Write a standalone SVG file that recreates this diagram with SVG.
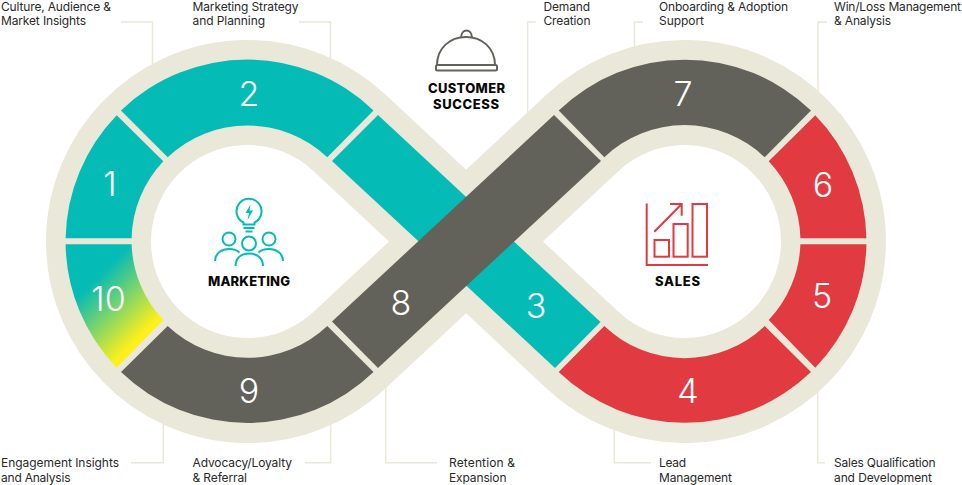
<svg xmlns="http://www.w3.org/2000/svg" width="962" height="485" viewBox="0 0 962 485">
<defs>
<linearGradient id="g10" gradientUnits="userSpaceOnUse" x1="95" y1="280" x2="146" y2="331"><stop offset="0" stop-color="#05bbb5"/><stop offset="1" stop-color="#fff01a"/></linearGradient>
</defs>
<style>
.lb{font:400 12px Inter,"Liberation Sans",sans-serif;fill:#2a2a2a}
.hd{font:800 13px Inter,"Liberation Sans",sans-serif;fill:#0a0a0a;text-anchor:middle}
.n{font:300 34px Inter,"Liberation Sans",sans-serif;fill:#fff;text-anchor:middle}
.c{fill:none;stroke:#eae8d9;stroke-width:1.5}
.teal{fill:#05bbb5}.grey{fill:#63625a}.red{fill:#e13a40}
.it{fill:none;stroke:#05bbb5;stroke-width:2}
.ir{fill:none;stroke:#e13a40;stroke-width:2}
.ig{fill:none;stroke:#63625a;stroke-width:2}
</style>
<rect width="962" height="485" fill="#fff"/>
<g id="connectors">
<path class="c" d="M121 22H152.500V64"/>
<path class="c" d="M299 22H330.500V60"/>
<path class="c" d="M536 22H527.700V113"/>
<path class="c" d="M643 22H634.500V48"/>
<path class="c" d="M827 22H818V92"/>
<path class="c" d="M131 462.700H163.300V422"/>
<path class="c" d="M305 462.700H330.700V424"/>
<path class="c" d="M437 462.700H385.700V387"/>
<path class="c" d="M651 462.700H614.300V428"/>
<path class="c" d="M825 462.700H817.700V390"/>
</g>
<g id="band"><path d="M349.100 132.500L582.900 350.500A149 149 0 1 0 582.900 132.500L349.100 350.500A149 149 0 1 1 349.100 132.500Z" fill="none" stroke="#eae8d9" stroke-width="105"/></g>
<g id="node-1"><path class="teal" d="M116.700 115.300A182 182 0 0 0 65.600 238.300H131.600A116 116 0 0 1 163.300 161.300Z"/><text class="n" x="110" y="196">1</text></g>
<g id="node-2"><path class="teal" d="M121 110.500A182 182 0 0 1 373.500 110.500L327.300 157.300A116 116 0 0 0 167.700 157.300Z"/><text class="n" x="249" y="106">2</text></g>
<g id="node-3"><path class="teal" d="M378 115L600.500 322L555 368L332 161Z"/><text class="n" x="536" y="318">3</text></g>
<g id="node-4"><path class="red" d="M558.700 372A182 182 0 0 0 811 372L764.700 326A116 116 0 0 1 604.300 326Z"/><text class="n" x="688" y="403">4</text></g>
<g id="node-5"><path class="red" d="M866.400 244.300A182 182 0 0 1 815.300 367.700L768.700 320A116 116 0 0 0 800.400 244.300Z"/><text class="n" x="822" y="308">5</text></g>
<g id="node-6"><path class="red" d="M815.300 115.300A182 182 0 0 1 866.400 238.300H800.400A116 116 0 0 0 768.700 161.300Z"/><text class="n" x="823" y="196.500">6</text></g>
<g id="node-7"><path class="grey" d="M558.700 110.500A182 182 0 0 1 811 110.500L764.700 157.300A116 116 0 0 0 604.300 157.300Z"/><text class="n" x="683" y="106">7</text></g>
<g id="node-8"><path class="grey" d="M554 115L601 161L378 368L332 321.500Z"/><text class="n" x="401" y="315">8</text></g>
<g id="node-9"><path class="grey" d="M121 372A182 182 0 0 0 373.500 372L327.300 326A116 116 0 0 1 167.700 326Z"/><text class="n" x="249" y="403">9</text></g>
<g id="node-10"><path fill="url(#g10)" d="M65.600 244.300H131.600A116 116 0 0 0 163.300 320L116.700 367.700A182 182 0 0 1 65.600 244.300Z"/><text class="n" x="108.500" y="311">10</text></g>
<g id="marketing">
<path class="it" d="M243.500 222.500V224.500H254.500V222.500A12.500 12.500 0 1 0 243.500 222.500Z"/>
<path d="M250.500 204.500L245.500 213H249L247.500 220L253 210.500H249.500Z" fill="#05bbb5"/>
<path class="it" d="M243.500 228H254.500M245.500 231.500H252.500"/>
<circle class="it" cx="229" cy="239" r="6.500"/><circle class="it" cx="269" cy="239" r="6.500"/><circle class="it" cx="249" cy="243.500" r="7"/>
<path class="it" d="M215 261C215 253 222 249 229 249C233 249 237 250 239.500 252.500"/>
<path class="it" d="M283 261C283 253 276 249 269 249C265 249 261 250 258.500 252.500"/>
<path class="it" d="M235.500 266C235.500 258 241 253.500 249 253.500C257 253.500 263 258 263 266"/>
<text class="hd" x="249" y="286" textLength="82">MARKETING</text>
</g>
<g id="customer-success">
<path class="ig" d="M437 65C437 48 450 37 466 37C482 37 495 48 495 65"/>
<path class="ig" d="M461 38C461 28 472 28 472 38"/>
<rect class="ig" x="436" y="65" width="61" height="5.500" rx="1.500"/>
<text class="hd" x="466.500" y="93" textLength="77">CUSTOMER</text>
<text class="hd" x="466" y="108.500" textLength="66">SUCCESS</text>
</g>
<g id="sales">
<path class="ir" d="M646.700 203.500V265H708"/>
<rect class="ir" x="654.500" y="240" width="14.500" height="16.700"/>
<rect class="ir" x="673.500" y="224" width="14.200" height="32.700"/>
<rect class="ir" x="692.500" y="204" width="14.500" height="52.700"/>
<path class="ir" d="M654.300 231.700L681.700 204M670 204H681.700V215.700"/>
<text class="hd" x="677.500" y="286" textLength="45">SALES</text>
</g>
<g id="labels">
<text class="lb" x="1" y="10.500" textLength="110">Culture, Audience &amp;</text>
<text class="lb" x="1" y="25" textLength="85">Market Insights</text>
<text class="lb" x="192.500" y="10.500" textLength="106">Marketing Strategy</text>
<text class="lb" x="192.500" y="25" textLength="72.500">and Planning</text>
<text class="lb" x="543.500" y="10.500" textLength="46.500">Demand</text>
<text class="lb" x="543.500" y="25" textLength="47">Creation</text>
<text class="lb" x="659" y="10.500" textLength="129">Onboarding &amp; Adoption</text>
<text class="lb" x="659" y="25" textLength="45">Support</text>
<text class="lb" x="834" y="10.500" textLength="127">Win/Loss Management</text>
<text class="lb" x="834" y="25" textLength="57">&amp; Analysis</text>
<text class="lb" x="1" y="467" textLength="118">Engagement Insights</text>
<text class="lb" x="1" y="481.500" textLength="69.500">and Analysis</text>
<text class="lb" x="192.500" y="467" textLength="99.500">Advocacy/Loyalty</text>
<text class="lb" x="192.500" y="481.500" textLength="54.500">&amp; Referral</text>
<text class="lb" x="449" y="467" textLength="66">Retention &amp;</text>
<text class="lb" x="449" y="481.500" textLength="57.500">Expansion</text>
<text class="lb" x="659" y="467" textLength="27">Lead</text>
<text class="lb" x="659" y="481.500" textLength="73">Management</text>
<text class="lb" x="834" y="467" textLength="101.500">Sales Qualification</text>
<text class="lb" x="834" y="481.500" textLength="98">and Development</text>
</g>
</svg>
